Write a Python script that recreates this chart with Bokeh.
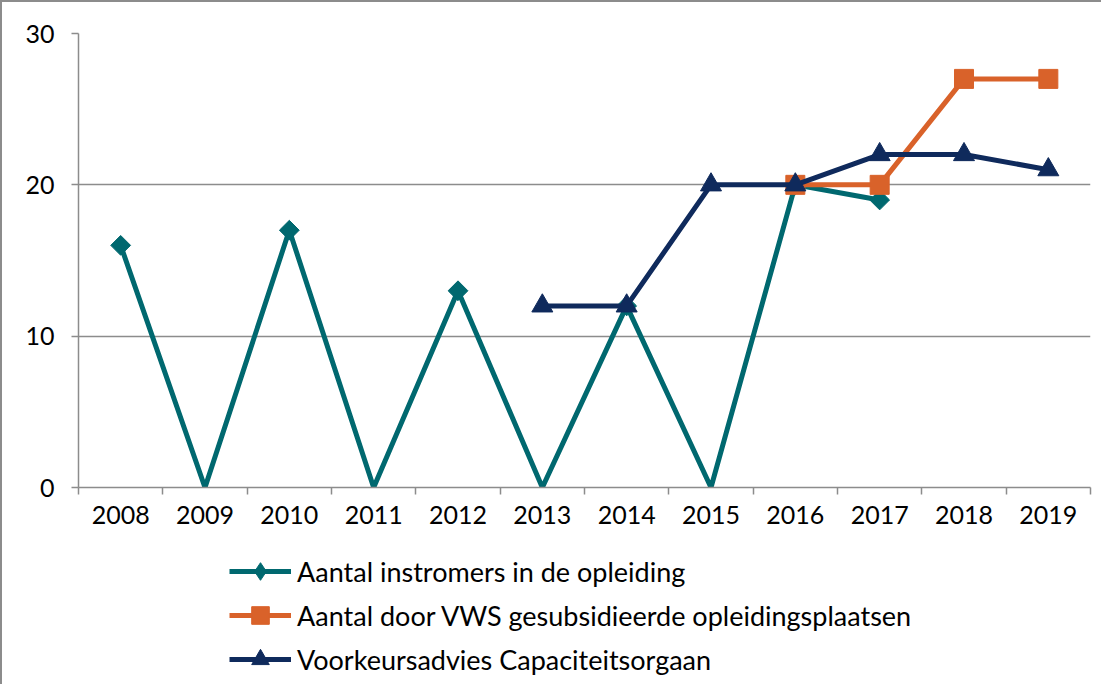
import numpy as np
from bokeh.plotting import figure
from bokeh.layouts import column
from bokeh.models import Range1d, FixedTicker, Legend, LegendItem
from bokeh.embed import file_html
from bokeh.resources import INLINE

years = ["2008", "2009", "2010", "2011", "2012", "2013", "2014", "2015", "2016", "2017", "2018", "2019"]

instromers_years = ["2008", "2009", "2010", "2011", "2012", "2013", "2014", "2015", "2016", "2017"]
instromers = [16, 0, 17, 0, 13, 0, 12, 0, 20, 19]

vws_years = ["2016", "2017", "2018", "2019"]
vws = [20, 20, 27, 27]

advies_years = ["2013", "2014", "2015", "2016", "2017", "2018", "2019"]
advies = [12, 12, 20, 20, 22, 22, 21]

labels = ["Aantal instromers in de opleiding",
          "Aantal door VWS gesubsidieerde opleidingsplaatsen",
          "Voorkeursadvies Capaciteitsorgaan"]

y_ticks = [0, 10, 20, 30]

TEAL = "#00686F"
ORANGE = "#D9622A"
NAVY = "#0F2A5C"
GRID = "#8C8C8C"
FONT = "Lato"

def xpos(ys):
    return [years.index(y) + 0.5 for y in ys]

p = figure(width=1099, height=533, output_backend="svg", toolbar_location=None,
           x_range=Range1d(0, len(years)), y_range=Range1d(0, 30),
           min_border_left=76, min_border_top=31, min_border_right=11, min_border_bottom=48)
p.outline_line_color = None

# axes
p.xaxis.ticker = FixedTicker(ticks=[i + 0.5 for i in range(len(years))],
                             minor_ticks=list(range(len(years) + 1)))
p.xaxis.major_label_overrides = {i + 0.5: y for i, y in enumerate(years)}
p.xaxis.major_tick_out = 0
p.xaxis.major_tick_in = 0
p.xaxis.minor_tick_out = 7
p.xaxis.minor_tick_in = 0
p.xaxis.minor_tick_line_color = GRID
p.xaxis.minor_tick_line_width = 1.5
p.xaxis.axis_line_color = GRID
p.xaxis.axis_line_width = 1.5
p.xaxis.major_label_text_font = FONT
p.xaxis.major_label_text_font_size = "25px"
p.xaxis.major_label_text_color = "black"
p.xaxis.major_label_standoff = 11

p.yaxis.ticker = FixedTicker(ticks=y_ticks, minor_ticks=[])
p.yaxis.major_tick_out = 7
p.yaxis.major_tick_in = 0
p.yaxis.major_tick_line_color = GRID
p.yaxis.major_tick_line_width = 1.5
p.yaxis.axis_line_color = GRID
p.yaxis.axis_line_width = 1.5
p.yaxis.major_label_text_font = FONT
p.yaxis.major_label_text_font_size = "25px"
p.yaxis.major_label_text_color = "black"
p.yaxis.major_label_standoff = 17

p.xgrid.grid_line_color = None
p.ygrid.ticker = FixedTicker(ticks=y_ticks)
p.ygrid.grid_line_color = GRID
p.ygrid.grid_line_width = 1.5

styles = [
    (TEAL, "square", 14, np.pi / 4),
    (ORANGE, "square", 19, 0.0),
    (NAVY, "triangle", 21, 0.0),
]
# legend glyphs ignore the rotation angle, so the legend uses a diamond marker
legend_styles = [
    (TEAL, "diamond", 22, 0.0),
    (ORANGE, "square", 19, 0.0),
    (NAVY, "triangle", 21, 0.0),
]
data = [
    (xpos(instromers_years), instromers),
    (xpos(vws_years), vws),
    (xpos(advies_years), advies),
]

def series(fig, xs, vals, color, marker, size, angle, visible=True):
    ln = fig.line(xs, vals, line_color=color, line_width=5, visible=visible)
    mx = [x for x, v in zip(xs, vals) if v > 0]
    my = [v for v in vals if v > 0]
    sc = fig.scatter(mx, my, marker=marker, size=size, angle=angle,
                     fill_color=color, line_color=color, visible=visible)
    return ln, sc

for (xs, vals), st in zip(data, styles):
    series(p, xs, vals, *st)

# legend panel (hidden copies of the series feed the legend glyphs)
lp = figure(width=1099, height=149, output_backend="svg", toolbar_location=None,
            x_range=Range1d(0, len(years)), y_range=Range1d(0, 30),
            x_axis_type=None, y_axis_type=None, min_border=0)
lp.outline_line_color = None
lp.xgrid.visible = False
lp.ygrid.visible = False

items = []
for lab, (xs, vals), st in zip(labels, data, legend_styles):
    ln, sc = series(lp, xs, vals, *st, visible=False)
    items.append(LegendItem(label=lab, renderers=[ln, sc]))

legend = Legend(items=items, location=(151, 3), orientation="vertical")
legend.border_line_color = None
legend.background_fill_alpha = 0
legend.inactive_fill_alpha = 0
legend.label_text_font = FONT
legend.label_text_font_size = "27px"
legend.label_text_color = "black"
legend.glyph_width = 62
legend.glyph_height = 44
legend.label_height = 44
legend.label_standoff = 6
legend.spacing = 0
legend.padding = 0
legend.margin = 0
lp.add_layout(legend, "center")

layout = column(p, lp, spacing=0)
layout.styles = {"border-left": "2px solid #8C8C8C", "border-top": "2px solid #8C8C8C"}

open("out.html", "w").write(file_html(layout, INLINE))
